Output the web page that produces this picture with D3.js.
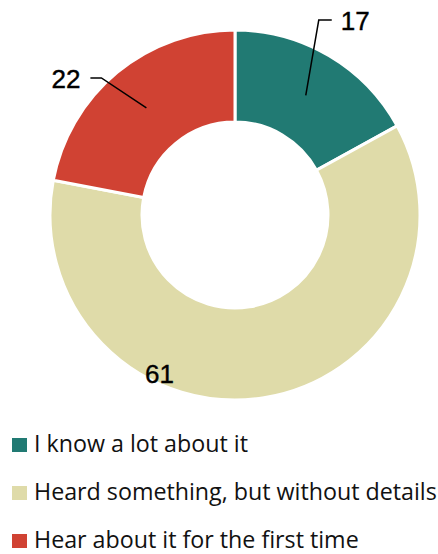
<!DOCTYPE html>
<html><head><meta charset="utf-8">
<script src="https://cdn.jsdelivr.net/npm/d3@7"></script>
<style>html,body{margin:0;padding:0;background:#fff;}</style>
</head><body>
<svg id="c" width="438" height="554"></svg>
<script>
const categories = ["I know a lot about it", "Heard something, but without details", "Hear about it for the first time"];
const values = [17, 61, 22];
const colors = ["#217a73", "#dfdba9", "#d04233"];

const svg = d3.select("#c");
const cx = 235, cy = 215, R = 185, r = 93;
const g = svg.append("g").attr("transform", `translate(${cx},${cy})`);

const pie = d3.pie().sort(null).value(d => d)(values);
const arc = d3.arc().innerRadius(r).outerRadius(R);
const mid = d3.arc().innerRadius(r).outerRadius(R);

g.selectAll("path.s").data(pie).join("path")
  .attr("class","s")
  .attr("d", arc)
  .attr("fill", (d,i) => colors[i])
  .attr("stroke", "#fff").attr("stroke-width", 3).attr("stroke-linejoin","miter");

const labFont = "'Liberation Sans', Arial, sans-serif";
function num(sel){ return sel.attr("font-family", labFont).attr("font-size", 26).attr("fill","#000").attr("stroke","#000").attr("stroke-width",0.4); }
// label 0 (17)
{
  const c = mid.centroid(pie[0]);
  const elbow = [c[0] + 13, -195], end = [c[0] + 26, -195];
  g.append("path").attr("d", d3.line()([c, elbow, end])).attr("fill","none").attr("stroke","#000").attr("stroke-width",1.5);
  num(g.append("text").attr("x", end[0] + 9).attr("y", -185).text(values[0]));
}
// label 2 (22)
{
  const c = mid.centroid(pie[2]);
  const elbow = [c[0] - 45, -137], end = [c[0] - 56, -137];
  g.append("path").attr("d", d3.line()([c, elbow, end])).attr("fill","none").attr("stroke","#000").attr("stroke-width",1.5);
  num(g.append("text").attr("x", end[0] - 10).attr("y", -127).attr("text-anchor","end").text(values[2]));
}
// label 1 (61)
num(g.append("text").attr("x", -90).attr("y", 168).text(values[1]));

// legend
const leg = svg.append("g");
const y0 = 452, dy = 48;
const items = leg.selectAll("g").data(categories).join("g")
  .attr("transform", (d,i) => `translate(0,${y0 + i*dy})`);
items.append("rect").attr("x", 12).attr("y", -14).attr("width", 15).attr("height", 14)
  .attr("fill", (d,i) => colors[i]);
const texts = items.append("text").attr("x", 0).attr("y", 0)
  .attr("font-family", "'Open Sans', sans-serif").attr("font-size", 23).attr("fill", "#111")
  .text(d => d);
let maxW = 0;
texts.each(function(){ maxW = Math.max(maxW, this.getComputedTextLength()); });
const sx = 403 / maxW;
texts.attr("transform", `translate(34,0) scale(${sx},1)`);
</script>
</body></html>
